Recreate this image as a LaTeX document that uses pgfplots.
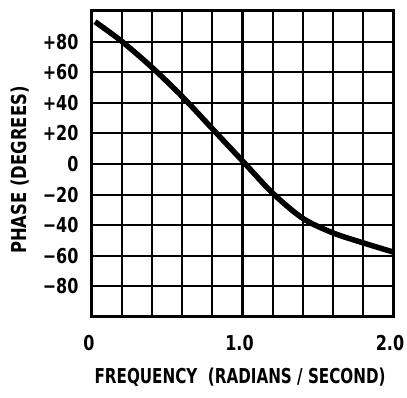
\documentclass[border=0pt]{standalone}
\usepackage{pgfplots}
\pgfplotsset{compat=1.18}
\usepackage{fontspec}
\setmainfont{DejaVu Sans}[FakeStretch=0.8]
\newfontfamily\tickfont{DejaVu Sans}[FakeStretch=0.78]
\newfontfamily\xlabelfont{DejaVu Sans}[FakeStretch=0.74]
\newfontfamily\ylabelfont{DejaVu Sans}[FakeStretch=0.8]
\begin{document}
\begin{tikzpicture}
\begin{axis}[
  scale only axis,
  width=301pt, height=306pt,
  xmin=0, xmax=2, ymin=-100, ymax=100,
  xtick={0,1,2}, xticklabels={0,1.0,2.0},
  minor xtick={0.2,0.4,0.6,0.8,1.2,1.4,1.6,1.8},
  ytick={-80,-60,-40,-20,0,20,40,60,80},
  yticklabels={−80,−60,−40,−20,0,+20,+40,+60,+80},
  grid=both,
  major grid style={black, line width=2.1pt},
  minor grid style={black, line width=2.1pt},
  axis line style={black, line width=3pt},
  major tick length=0pt, minor tick length=0pt,
  tick style={draw=none},
  ticklabel style={font=\tickfont\bfseries\fontsize{20.5}{20.5}\selectfont},
  /pgf/number format/assume math mode=true,
  xticklabel style={anchor=center, yshift=-26pt, xshift=-3pt},
  yticklabel style={anchor=east, xshift=-10pt},
  xlabel={FREQUENCY\ \ (RADIANS / SECOND)},
  ylabel={PHASE (DEGREES)},
  xlabel style={font=\xlabelfont\bfseries\fontsize{20.5}{20.5}\selectfont,
    at={(axis description cs:0.492,0)}, yshift=-60pt, anchor=center},
  ylabel style={font=\ylabelfont\bfseries\fontsize{20.5}{20.5}\selectfont,
    at={(axis description cs:0,0.48)}, yshift=72pt, anchor=center},
]
% phase response of the network
\addplot[black, line width=5.5pt, smooth, tension=0.5] coordinates {
  (0.02,93) (0.2,80) (0.4,63) (0.6,44) (0.8,23) (1.0,2)
  (1.2,-19) (1.4,-35.5) (1.6,-45) (1.8,-51.5) (2.0,-57.5)
};
\end{axis}
\pgfresetboundingbox
\useasboundingbox ([shift={(-92pt,-81pt)}]current axis.south west)
  rectangle ([shift={(14pt,11pt)}]current axis.north east);
\end{tikzpicture}
\end{document}
